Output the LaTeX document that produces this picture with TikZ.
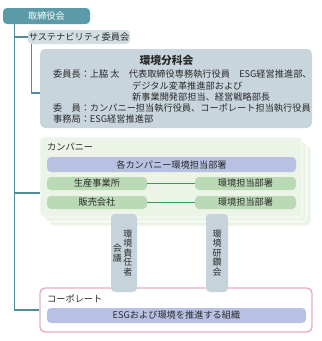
\documentclass[tikz,border=0pt]{standalone}
\usepackage{fontspec}
\setmainfont{Noto Sans CJK JP}
\definecolor{ink}{HTML}{2A2A2A}
\definecolor{tealbox}{HTML}{5B9AA6}
\definecolor{tealline}{HTML}{4E8E9B}
\definecolor{greyblue}{HTML}{D2DEE4}
\definecolor{panelblue}{HTML}{C9D5DD}
\definecolor{lavender}{HTML}{B9C1E3}
\definecolor{paleleaf}{HTML}{EBF4E7}
\definecolor{leaf}{HTML}{BADAB5}
\definecolor{leafline}{HTML}{3A9A50}
\definecolor{tabgrey}{HTML}{C6D3DA}
\definecolor{pinkline}{HTML}{E9A9C8}
\tikzset{
  every node/.style={font=\fontsize{9.2}{10}\selectfont, text=ink, inner sep=0pt},
  boardbox/.style={fill=tealbox, rounded corners=4pt, text=white},
  committeebox/.style={fill=greyblue, rounded corners=4pt},
  panelbox/.style={fill=panelblue, rounded corners=5pt},
  layerbox/.style={fill=paleleaf, draw=white, line width=0.8pt, rounded corners=4pt},
  deptbox/.style={fill=lavender, rounded corners=4pt},
  sitebox/.style={fill=leaf, rounded corners=4pt, minimum height=13pt},
  tabbox/.style={fill=tabgrey, rounded corners=4pt, minimum height=78pt},
  corpbox/.style={draw=pinkline, fill=white, line width=1.4pt, rounded corners=5pt},
  textline/.style={anchor=west},
  vtext/.style={align=center, font=\fontsize{9}{9.5}\selectfont},
  trunk/.style={draw=tealline, line width=1.2pt},
  link/.style={draw=leafline, line width=1.2pt}
}
\begin{document}
\begin{tikzpicture}[x=1pt, y=-1pt]
  \useasboundingbox (0,0) rectangle (322,341);

  % board and committee
  \node[boardbox, minimum width=87pt, minimum height=16pt] (board) at (46.5,16) {取締役会};
  \node[committeebox, minimum width=102pt, minimum height=14pt] (susta) at (79,37) {サステナビリティ委員会};

  % environment subcommittee
  \node[panelbox, minimum width=272pt, minimum height=79pt] (bunka) at (176,88.5) {};
  \node[font=\fontsize{10.8}{12}\selectfont\bfseries] (bunkatitle) at (166.5,60) {環境分科会};
  \node[textline] (chair) at (53,74) {委員長：上脇 太　代表取締役専務執行役員　ESG経営推進部、};
  \node[textline] (chairb) at (132,86) {デジタル変革推進部および};
  \node[textline] (chairc) at (132,97) {新事業開発部担当、経営戦略部長};
  \node[textline] (member) at (53,108) {委　員：カンパニー担当執行役員、コーポレート担当執行役員};
  \node[textline] (office) at (53,119) {事務局：ESG経営推進部};

  % company stack
  \foreach \d in {9,4.5}
    \draw[layerbox, shift={(\d,\d)}] (40,137) rectangle (302,217);
  \node[layerbox, minimum width=262pt, minimum height=80pt] (company) at (171,177) {};
  \node[textline] (companylabel) at (47,147) {カンパニー};
  \node[deptbox, minimum width=249pt, minimum height=15pt] (allco) at (171.5,164.5) {各カンパニー環境担当部署};
  \node[sitebox, minimum width=100pt] (seisan) at (97,183.5) {生産事業所};
  \node[sitebox, minimum width=101pt] (kankyoA) at (245.5,183.5) {環境担当部署};
  \node[sitebox, minimum width=100pt] (hanbai) at (97,202.5) {販売会社};
  \node[sitebox, minimum width=101pt] (kankyoB) at (245.5,202.5) {環境担当部署};
  \foreach \a/\b in {seisan/kankyoA,hanbai/kankyoB}
    \draw[link] (\a) -- (\b);

  % corporate
  \node[corpbox, minimum width=272pt, minimum height=44pt] (corp) at (176,310) {};
  \node[textline] (corplabel) at (47,299) {コーポレート};
  \node[deptbox, minimum width=259pt, minimum height=15pt] (esg) at (176.5,315.5) {ESGおよび環境を推進する組織};

  % meeting tabs
  \node[tabbox, minimum width=26pt] (tabA) at (124,253) {};
  \node[vtext] (tabAr) at (128,253) {環\\境\\責\\任\\者};
  \node[vtext] (tabAl) at (117.5,253) {会\\議};
  \node[tabbox, minimum width=22pt] (tabB) at (217,253) {};
  \node[vtext] (tabBt) at (217,253) {環\\境\\研\\鑽\\会};

  % reporting lines
  \draw[trunk] ([xshift=12pt]board.south west) |- (susta.west);
  \draw[trunk] ([xshift=12pt]board.south west) |- ([yshift=-16pt]company.west);
  \draw[trunk] ([xshift=12pt]board.south west) |- (corp.west);
  \draw[trunk] ([xshift=4pt]susta.south west) |- ([yshift=-4.5pt]bunka.west);
\end{tikzpicture}
\end{document}
